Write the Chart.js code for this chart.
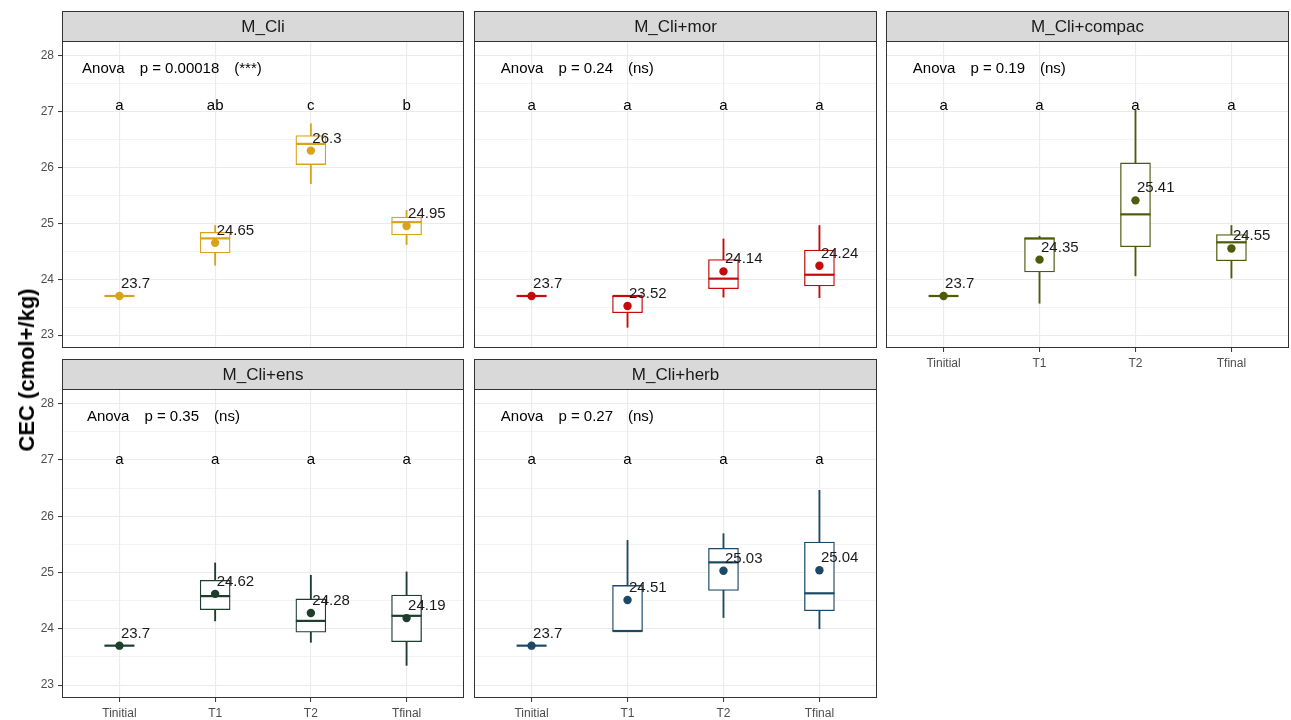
<!DOCTYPE html>
<html lang="en">
<head>
<meta charset="UTF-8">
<title>CEC (cmol+/kg)</title>
<script src="https://cdn.jsdelivr.net/npm/chart.js"></script>
<style>
    html, body { margin: 0; padding: 0; background: #fff; }
    #wrap { position: relative; width: 1291px; height: 720px; overflow: hidden; }
    #wrap canvas { position: absolute; left: 0; top: 0; }
    #ytitle {
        position: absolute; left: 27px; top: 370px; z-index: 10;
        transform: translate(-50%, -50%) rotate(-90deg);
        font: bold 22px "Liberation Sans", Arial, sans-serif;
        color: #000; white-space: nowrap;
    }
</style>
</head>
<body>
<div id="wrap">
    <div id="ytitle">CEC (cmol+/kg)</div>
</div>
<script>
// ---- data ----
const categories = ['Tinitial', 'T1', 'T2', 'Tfinal'];
const panelNames = ['M_Cli', 'M_Cli+mor', 'M_Cli+compac', 'M_Cli+ens', 'M_Cli+herb'];

const mins    = [[23.7, 24.25, 25.71, 24.62], [23.7, 23.14, 23.68, 23.67], [23.7, 23.57, 24.06, 24.02], [23.7, 24.14, 23.76, 23.35], [23.7, 23.96, 24.20, 24.00]];
const q1s     = [[23.7, 24.47, 26.05, 24.79], [23.7, 23.40, 23.83, 23.88], [23.7, 24.13, 24.58, 24.33], [23.7, 24.34, 23.94, 23.77], [23.7, 23.96, 24.68, 24.32]];
const medians = [[23.7, 24.73, 26.42, 25.02], [23.7, 23.70, 24.01, 24.08], [23.7, 24.73, 25.16, 24.66], [23.7, 24.58, 24.14, 24.23], [23.7, 23.96, 25.18, 24.63]];
const q3s     = [[23.7, 24.84, 26.57, 25.11], [23.7, 23.70, 24.35, 24.52], [23.7, 24.73, 26.08, 24.80], [23.7, 24.86, 24.53, 24.60], [23.7, 24.77, 25.43, 25.54]];
const maxs    = [[23.7, 24.96, 26.78, 25.23], [23.7, 23.70, 24.72, 24.96], [23.7, 24.77, 27.02, 24.96], [23.7, 25.17, 24.95, 25.01], [23.7, 25.57, 25.69, 26.46]];
const means   = [[23.7, 24.65, 26.3, 24.95], [23.7, 23.52, 24.14, 24.24], [23.7, 24.35, 25.41, 24.55], [23.7, 24.62, 24.28, 24.19], [23.7, 24.51, 25.03, 25.04]];

const pValues = ['0.00018', '0.24', '0.19', '0.35', '0.27'];
const signif  = ['(***)', '(ns)', '(ns)', '(ns)', '(ns)'];
const letters = [['a', 'ab', 'c', 'b'], ['a', 'a', 'a', 'a'], ['a', 'a', 'a', 'a'], ['a', 'a', 'a', 'a'], ['a', 'a', 'a', 'a']];
const letterY = [27.1, 27.1, 27.1, 27.0, 27.0];
const anovaY  = 27.77;
const yTicks  = [23, 24, 25, 26, 27, 28];

// ---- look & layout ----
const colors = ['#D9A21B', '#C40A0A', '#4E5A0C', '#1D3D2D', '#1B4966'];
const FONT = '"Liberation Sans", Arial, sans-serif';
const W = 1291, H = 720;
const yW = 30, xH = 20, stripH = 30;
const cols = [[62, 464], [474, 877], [886, 1289]];
const rows = [[41, 348], [389, 698]];
const panelPos = [[0, 0], [0, 1], [0, 2], [1, 0], [1, 1]];
const anovaX = [0.61, 0.68, 0.68, 0.66, 0.68];

const yMinor = yTicks.slice(0, -1).map(v => v + 0.5);

const facetPlugin = {
    id: 'facet',
    afterDraw(chart, args, opts) {
        const p = opts.index;
        const {ctx, chartArea: a} = chart;
        const x = chart.scales.x, y = chart.scales.y;
        ctx.save();
        // panel border
        ctx.strokeStyle = '#333333';
        ctx.lineWidth = 1;
        ctx.strokeRect(a.left + 0.5, a.top + 0.5, a.right - a.left - 1, a.bottom - a.top - 1);
        // strip
        ctx.fillStyle = '#D9D9D9';
        ctx.fillRect(a.left, a.top - stripH, a.right - a.left, stripH);
        ctx.strokeRect(a.left + 0.5, a.top - stripH + 0.5, a.right - a.left - 1, stripH);
        ctx.fillStyle = '#1A1A1A';
        ctx.font = '17px ' + FONT;
        ctx.textAlign = 'center';
        ctx.textBaseline = 'middle';
        ctx.fillText(panelNames[p], (a.left + a.right) / 2, a.top - stripH / 2 + 1);

        // anova text
        ctx.fillStyle = '#000';
        ctx.font = '15px ' + FONT;
        ctx.textAlign = 'left';
        let tx = x.getPixelForValue(anovaX[p]);
        const ty = y.getPixelForValue(anovaY);
        ['Anova', 'p = ' + pValues[p], signif[p]].forEach(s => {
            ctx.fillText(s, tx, ty);
            tx += ctx.measureText(s).width + 15;
        });

        // letters
        ctx.textAlign = 'center';
        letters[p].forEach((l, i) => {
            ctx.fillText(l, x.getPixelForValue(i + 1), y.getPixelForValue(letterY[p]));
        });

        // mean labels
        ctx.fillStyle = '#1A1A1A';
        ctx.textAlign = 'left';
        ctx.textBaseline = 'alphabetic';
        means[p].forEach((m, i) => {
            ctx.fillText(String(m), x.getPixelForValue(i + 1) + 1.5, y.getPixelForValue(m) - 8);
        });
        ctx.restore();
    }
};

function makePanel(p) {
    const [r, c] = panelPos[p];
    const [L, R] = cols[c];
    const [T, B] = rows[r];
    const showY = c === 0;
    const showX = r === 1 || p === 2;
    const col = colors[p];
    const xs = categories.map((_, i) => i + 1);

    const canvas = document.createElement('canvas');
    canvas.width = W;
    canvas.height = H;
    document.getElementById('wrap').appendChild(canvas);

    new Chart(canvas, {
        type: 'bar',
        data: {
            datasets: [
                { // whiskers
                    type: 'bar', order: 4, grouped: false,
                    data: xs.map((v, i) => ({x: v, y: [mins[p][i], maxs[p][i]]})),
                    backgroundColor: col, borderWidth: 0, barThickness: 1.2
                },
                { // boxes
                    type: 'bar', order: 3, grouped: false,
                    data: xs.map((v, i) => ({x: v, y: [q1s[p][i], q3s[p][i]]})),
                    backgroundColor: '#ffffff', borderColor: col, borderWidth: 1.3,
                    borderSkipped: false, barThickness: 30
                },
                { // medians
                    type: 'line', order: 2, showLine: false,
                    data: xs.map((v, i) => ({x: v, y: medians[p][i]})),
                    pointStyle: 'line', pointRadius: 15, pointBorderColor: col, pointBorderWidth: 2.2
                },
                { // means
                    type: 'line', order: 1, showLine: false,
                    data: xs.map((v, i) => ({x: v, y: means[p][i]})),
                    pointStyle: 'circle', pointRadius: 4.2, pointBackgroundColor: col,
                    pointBorderColor: col, pointBorderWidth: 0
                }
            ]
        },
        options: {
            responsive: false,
            animation: false,
            events: [],
            layout: {
                autoPadding: false,
                padding: {left: L - yW, top: T, right: W - R, bottom: H - B - xH}
            },
            plugins: {legend: {display: false}, tooltip: {enabled: false}, facet: {index: p}},
            scales: {
                x: {
                    type: 'linear', min: 0.4, max: 4.6, offset: false,
                    grid: {offset: false, color: '#EBEBEB', lineWidth: 1.1, drawTicks: showX,
                           tickLength: 4, tickColor: '#333333', tickWidth: 1},
                    border: {display: false},
                    afterBuildTicks: s => { s.ticks = xs.map(v => ({value: v})); },
                    ticks: {display: showX, autoSkip: false, maxRotation: 0, padding: 4,
                            color: '#4D4D4D', font: {family: FONT, size: 12},
                            callback: v => categories[v - 1] || ''},
                    afterFit: s => {
                        s.height = xH;
                        s.paddingLeft = 0;
                        s.paddingRight = 0;
                    }
                },
                y: {
                    type: 'linear', min: 22.77, max: 28.26, beginAtZero: false,
                    grid: {
                        color: '#EBEBEB',
                        lineWidth: ctx => Number.isInteger(ctx.tick && ctx.tick.value) ? 1.1 : 0.6,
                        drawTicks: showY, tickLength: 4, tickWidth: 1,
                        tickColor: ctx => Number.isInteger(ctx.tick && ctx.tick.value) ? '#333333' : 'rgba(0,0,0,0)'
                    },
                    border: {display: false},
                    afterBuildTicks: s => {
                        s.ticks = yTicks.concat(yMinor).sort((a, b) => a - b).map(v => ({value: v}));
                    },
                    ticks: {display: showY, autoSkip: false, padding: 4,
                            color: '#4D4D4D', font: {family: FONT, size: 12},
                            callback: v => Number.isInteger(v) ? String(v) : ''},
                    afterFit: s => {
                        s.width = yW;
                        s.paddingTop = 0;
                        s.paddingBottom = 0;
                    }
                }
            }
        },
        plugins: [facetPlugin]
    });
}

panelNames.forEach((_, p) => makePanel(p));
</script>
</body>
</html>
